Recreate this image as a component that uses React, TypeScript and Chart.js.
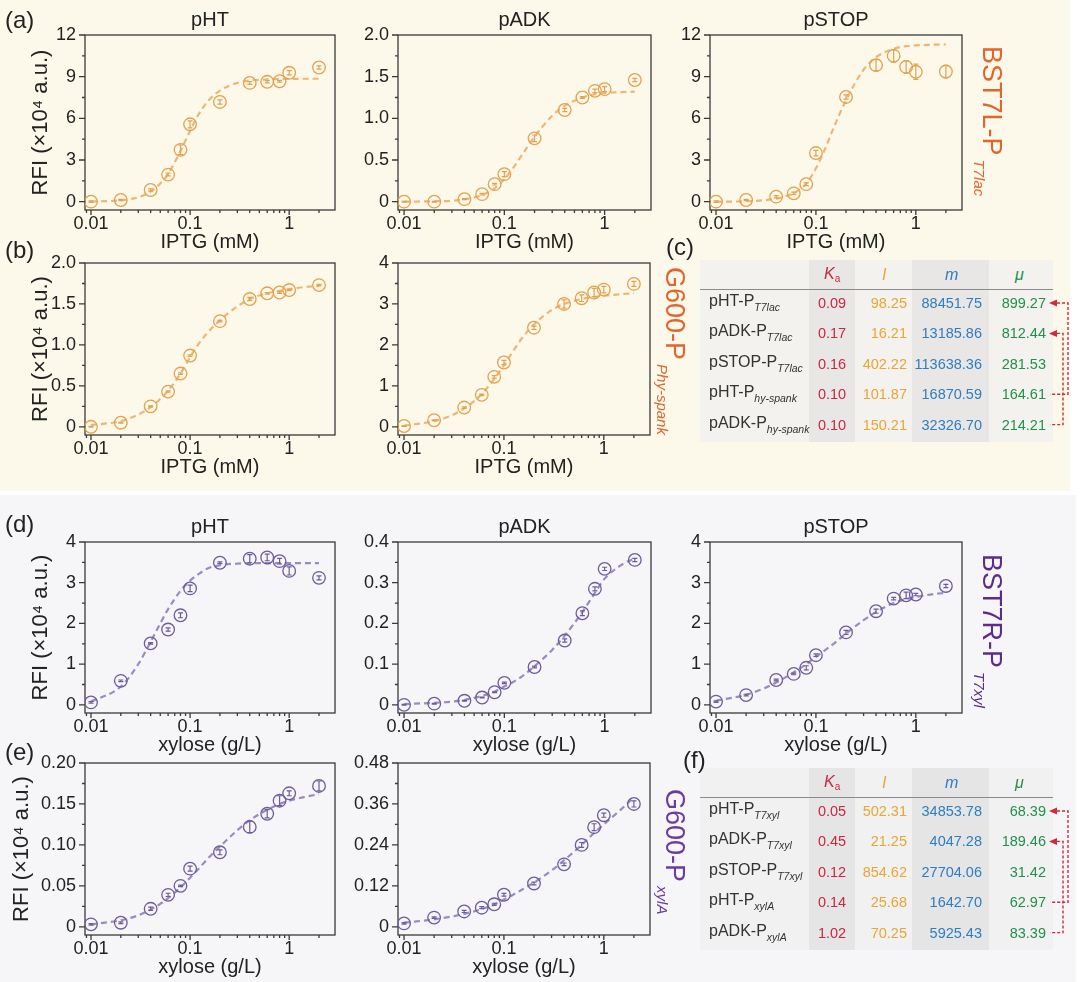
import React, { useEffect, useRef } from 'react';
import { Chart, registerables } from 'chart.js';

Chart.register(...registerables);

const FONT = '"Liberation Sans", Arial, Helvetica, sans-serif';
const TXT = '#222222';

// ---------- shared axis data ----------
const CONC = [0.01, 0.02, 0.04, 0.06, 0.08, 0.1, 0.2, 0.4, 0.6, 0.8, 1, 2];
const CURVE_X = [0.01, 0.02, 0.03, 0.04, 0.05, 0.06, 0.08, 0.1, 0.12, 0.15, 0.2, 0.3, 0.4, 0.6, 0.8, 1, 1.5, 2];
const X_MAJOR = [0.01, 0.1, 1];
const X_LABELS = ['0.01', '0.1', '1'];
const X_MINOR = [0.009, 0.02, 0.03, 0.04, 0.05, 0.06, 0.07, 0.08, 0.09, 0.2, 0.3, 0.4, 0.5, 0.6, 0.7, 0.8, 0.9, 2];

const Y_TICKS_12 = [0, 3, 6, 9, 12];
const Y_LABELS_12 = ['0', '3', '6', '9', '12'];
const Y_TICKS_2 = [0, 0.5, 1, 1.5, 2];
const Y_LABELS_2 = ['0', '0.5', '1.0', '1.5', '2.0'];
const Y_TICKS_4 = [0, 1, 2, 3, 4];
const Y_LABELS_4 = ['0', '1', '2', '3', '4'];
const Y_TICKS_04 = [0, 0.1, 0.2, 0.3, 0.4];
const Y_LABELS_04 = ['0', '0.1', '0.2', '0.3', '0.4'];
const Y_TICKS_02 = [0, 0.05, 0.1, 0.15, 0.2];
const Y_LABELS_02 = ['0', '0.05', '0.10', '0.15', '0.20'];
const Y_TICKS_048 = [0, 0.12, 0.24, 0.36, 0.48];
const Y_LABELS_048 = ['0', '0.12', '0.24', '0.36', '0.48'];

// ---------- series (a) BST7L-P_T7lac ----------
const A_PHT = [0, 0.12, 0.84, 1.95, 3.73, 5.57, 7.18, 8.55, 8.63, 8.67, 9.28, 9.66];
const A_PHT_ERR = [0.05, 0.05, 0.08, 0.1, 0.35, 0.25, 0.15, 0.1, 0.08, 0.06, 0.15, 0.12];
const A_PHT_FIT = [0.01, 0.1, 0.32, 0.72, 1.3, 2.0, 3.65, 5.1, 6.2, 7.2, 8.0, 8.55, 8.72, 8.8, 8.83, 8.84, 8.85, 8.85];

const A_PADK = [0, 0, 0.03, 0.09, 0.21, 0.33, 0.76, 1.1, 1.25, 1.33, 1.35, 1.46];
const A_PADK_ERR = [0.005, 0.005, 0.006, 0.01, 0.01, 0.03, 0.04, 0.02, 0.01, 0.02, 0.03, 0.02];
const A_PADK_FIT = [0, 0.005, 0.012, 0.03, 0.05, 0.08, 0.16, 0.27, 0.39, 0.56, 0.78, 1.03, 1.15, 1.25, 1.29, 1.305, 1.315, 1.32];

const A_PSTOP = [0, 0.12, 0.36, 0.6, 1.26, 3.5, 7.54, 9.83, 10.5, 9.7, 9.35, 9.37];
const A_PSTOP_ERR = [0.05, 0.05, 0.08, 0.08, 0.1, 0.2, 0.15, 0.4, 0.45, 0.45, 0.55, 0.45];
const A_PSTOP_FIT = [0, 0.03, 0.1, 0.22, 0.4, 0.62, 1.3, 2.4, 3.6, 5.3, 7.3, 9.5, 10.4, 11.0, 11.2, 11.25, 11.3, 11.32];

// ---------- series (b) G600-P_hy-spank ----------
const B_PHT = [0, 0.05, 0.25, 0.43, 0.65, 0.87, 1.29, 1.56, 1.63, 1.64, 1.67, 1.73];
const B_PHT_ERR = [0.005, 0.005, 0.006, 0.008, 0.01, 0.01, 0.01, 0.02, 0.01, 0.01, 0.008, 0.01];
const B_PHT_FIT = [0.02, 0.07, 0.15, 0.24, 0.34, 0.44, 0.65, 0.85, 1.0, 1.15, 1.3, 1.47, 1.56, 1.63, 1.66, 1.68, 1.71, 1.72];

const B_PADK = [0.02, 0.16, 0.47, 0.78, 1.22, 1.57, 2.42, 3.0, 3.14, 3.28, 3.35, 3.49];
const B_PADK_ERR = [0.01, 0.01, 0.02, 0.02, 0.03, 0.05, 0.04, 0.1, 0.08, 0.1, 0.08, 0.06];
const B_PADK_FIT = [0.03, 0.14, 0.28, 0.45, 0.62, 0.8, 1.17, 1.5, 1.8, 2.15, 2.5, 2.85, 3.0, 3.12, 3.17, 3.2, 3.24, 3.26];

// ---------- series (d) BST7R-P_T7xyl ----------
const D_PHT = [0.06, 0.59, 1.51, 1.85, 2.2, 2.86, 3.49, 3.59, 3.62, 3.53, 3.29, 3.12];
const D_PHT_ERR = [0.02, 0.02, 0.02, 0.04, 0.06, 0.08, 0.02, 0.1, 0.08, 0.07, 0.1, 0.05];
const D_PHT_FIT = [0.08, 0.45, 1.0, 1.55, 2.0, 2.35, 2.8, 3.05, 3.2, 3.35, 3.43, 3.47, 3.48, 3.48, 3.48, 3.48, 3.48, 3.48];

const D_PADK = [0, 0.003, 0.01, 0.018, 0.031, 0.054, 0.093, 0.158, 0.225, 0.285, 0.334, 0.356];
const D_PADK_ERR = [0.001, 0.001, 0.001, 0.001, 0.001, 0.002, 0.002, 0.004, 0.006, 0.005, 0.004, 0.004];
const D_PADK_FIT = [0.002, 0.005, 0.008, 0.012, 0.017, 0.022, 0.033, 0.045, 0.055, 0.07, 0.095, 0.135, 0.17, 0.228, 0.275, 0.31, 0.345, 0.36];

const D_PSTOP = [0.08, 0.24, 0.61, 0.76, 0.91, 1.22, 1.78, 2.3, 2.61, 2.69, 2.71, 2.92];
const D_PSTOP_ERR = [0.02, 0.02, 0.02, 0.02, 0.05, 0.03, 0.05, 0.05, 0.03, 0.08, 0.03, 0.04];
const D_PSTOP_FIT = [0.1, 0.25, 0.4, 0.55, 0.68, 0.8, 1.0, 1.18, 1.32, 1.5, 1.75, 2.08, 2.28, 2.5, 2.6, 2.65, 2.72, 2.75];

// ---------- series (e) G600-P_xylA ----------
const E_PHT = [0.003, 0.005, 0.022, 0.039, 0.05, 0.071, 0.091, 0.122, 0.138, 0.154, 0.163, 0.172];
const E_PHT_ERR = [0.001, 0.001, 0.002, 0.002, 0.001, 0.003, 0.003, 0.007, 0.005, 0.006, 0.003, 0.006];
const E_PHT_FIT = [0.003, 0.008, 0.014, 0.021, 0.028, 0.035, 0.048, 0.06, 0.07, 0.083, 0.098, 0.118, 0.13, 0.143, 0.15, 0.154, 0.159, 0.162];

const E_PADK = [0.01, 0.027, 0.045, 0.056, 0.066, 0.094, 0.127, 0.183, 0.24, 0.292, 0.327, 0.36];
const E_PADK_ERR = [0.002, 0.002, 0.003, 0.003, 0.003, 0.004, 0.004, 0.004, 0.007, 0.01, 0.006, 0.009];
const E_PADK_FIT = [0.012, 0.022, 0.03, 0.038, 0.045, 0.052, 0.065, 0.08, 0.092, 0.108, 0.13, 0.165, 0.195, 0.24, 0.275, 0.3, 0.345, 0.38];

// ---------- tables ----------
const C_NAMES = ['pHT-P', 'pADK-P', 'pSTOP-P', 'pHT-P', 'pADK-P'];
const C_SUBS = ['T7lac', 'T7lac', 'T7lac', 'hy-spank', 'hy-spank'];
const C_KA = ['0.09', '0.17', '0.16', '0.10', '0.10'];
const C_I = ['98.25', '16.21', '402.22', '101.87', '150.21'];
const C_M = ['88451.75', '13185.86', '113638.36', '16870.59', '32326.70'];
const C_MU = ['899.27', '812.44', '281.53', '164.61', '214.21'];

const F_NAMES = ['pHT-P', 'pADK-P', 'pSTOP-P', 'pHT-P', 'pADK-P'];
const F_SUBS = ['T7xyl', 'T7xyl', 'T7xyl', 'xylA', 'xylA'];
const F_KA = ['0.05', '0.45', '0.12', '0.14', '1.02'];
const F_I = ['502.31', '21.25', '854.62', '25.68', '70.25'];
const F_M = ['34853.78', '4047.28', '27704.06', '1642.70', '5925.43'];
const F_MU = ['68.39', '189.46', '31.42', '62.97', '83.39'];

const ORANGE_MARK = '#E2A24E';
const ORANGE_LINE = '#EDB675';
const PURPLE_MARK = '#6C5C9C';
const PURPLE_LINE = '#9A8BC2';

const C_RED = '#C9283E';
const C_ORG = '#E9A634';
const C_BLUE = '#2F7DBF';
const C_GREEN = '#22904A';

type PanelProps = {
  L: number; T: number; R: number; B: number;
  title: string; xTitle: string; yTitle?: string; yTitlePad?: number;
  ticks: number[]; labels: string[];
  pts: number[]; err: number[]; fit: number[];
  mark: string; line: string;
};

function Panel(p: PanelProps) {
  const ref = useRef<HTMLCanvasElement>(null);
  const cl = p.L - 85;
  const ct = p.T - 35;
  const cw = p.R + 10 - cl;
  const ch = p.B + 50 - ct;

  useEffect(() => {
    const yMax = p.ticks[p.ticks.length - 1];
    const yMin = -0.05 * yMax;
    const minor = p.ticks.slice(1).map((v, i) => (v + p.ticks[i]) / 2);

    const decor = {
      id: 'decor',
      beforeDatasetsDraw(chart: any) {
        const { ctx, chartArea } = chart;
        const { left, right, top, bottom } = chartArea;
        const xs = chart.scales.x;
        const ys = chart.scales.y;
        ctx.save();
        ctx.strokeStyle = '#3a3a3a';
        ctx.lineWidth = 1.3;
        ctx.strokeRect(left, top, right - left, bottom - top);
        ctx.beginPath();
        X_MAJOR.forEach((v) => {
          const px = xs.getPixelForValue(v);
          ctx.moveTo(px, bottom); ctx.lineTo(px, bottom + 5);
        });
        X_MINOR.forEach((v) => {
          const px = xs.getPixelForValue(v);
          if (px >= left - 0.5 && px <= right + 0.5) {
            ctx.moveTo(px, bottom); ctx.lineTo(px, bottom + 3);
          }
        });
        p.ticks.forEach((v) => {
          const py = ys.getPixelForValue(v);
          ctx.moveTo(left, py); ctx.lineTo(left - 6, py);
        });
        minor.forEach((v) => {
          const py = ys.getPixelForValue(v);
          ctx.moveTo(left, py); ctx.lineTo(left - 3, py);
        });
        ctx.stroke();
        ctx.restore();
      },
      afterDatasetsDraw(chart: any) {
        const { ctx } = chart;
        const ys = chart.scales.y;
        const meta = chart.getDatasetMeta(1);
        ctx.save();
        ctx.strokeStyle = p.mark;
        ctx.lineWidth = 1.2;
        ctx.beginPath();
        meta.data.forEach((el: any, i: number) => {
          const px = el.x;
          const y1 = ys.getPixelForValue(p.pts[i] + p.err[i]);
          const y2 = ys.getPixelForValue(p.pts[i] - p.err[i]);
          ctx.moveTo(px, y1); ctx.lineTo(px, y2);
          ctx.moveTo(px - 2.5, y1); ctx.lineTo(px + 2.5, y1);
          ctx.moveTo(px - 2.5, y2); ctx.lineTo(px + 2.5, y2);
        });
        ctx.stroke();
        ctx.restore();
      },
      afterDraw(chart: any) {
        const { ctx, chartArea } = chart;
        ctx.save();
        ctx.font = `20px ${FONT}`;
        ctx.fillStyle = TXT;
        ctx.textAlign = 'center';
        ctx.textBaseline = 'middle';
        ctx.fillText(p.title, (chartArea.left + chartArea.right) / 2, chartArea.top - 15);
        ctx.restore();
      },
    };

    const chart = new Chart(ref.current as HTMLCanvasElement, {
      type: 'scatter',
      data: {
        datasets: [
          {
            data: CURVE_X.map((x, i) => ({ x, y: p.fit[i] })),
            showLine: true,
            borderColor: p.line,
            borderWidth: 2.2,
            borderDash: [6, 4],
            pointRadius: 0,
            cubicInterpolationMode: 'monotone',
            fill: false,
            order: 2,
          } as any,
          {
            data: CONC.map((x, i) => ({ x, y: p.pts[i] })),
            showLine: false,
            pointRadius: 6.3,
            pointBorderWidth: 1.3,
            pointBorderColor: p.mark,
            pointBackgroundColor: 'rgba(0,0,0,0)',
            order: 1,
          } as any,
        ],
      },
      options: {
        responsive: false,
        animation: false,
        layout: { padding: { top: 35, right: 10, left: 0, bottom: 0 } },
        plugins: {
          legend: { display: false },
          tooltip: { enabled: false },
          title: { display: false },
        },
        scales: {
          x: {
            type: 'logarithmic',
            min: 0.0087,
            max: 2.9,
            grid: { display: false, drawTicks: false },
            border: { display: false },
            ticks: {
              autoSkip: false,
              maxRotation: 0,
              padding: 3,
              color: TXT,
              font: { size: 18, family: FONT },
              callback: (_v: any, i: number) => X_LABELS[i],
            },
            afterBuildTicks: (s: any) => { s.ticks = X_MAJOR.map((v) => ({ value: v })); },
            afterFit: (s: any) => { s.height = 50; },
            title: {
              display: true,
              text: p.xTitle,
              color: TXT,
              font: { size: 20, family: FONT },
              padding: { top: 0, bottom: 6 },
            },
          } as any,
          y: {
            type: 'linear',
            min: yMin,
            max: yMax,
            grid: { display: false, drawTicks: false },
            border: { display: false },
            ticks: {
              autoSkip: false,
              padding: 9,
              color: TXT,
              font: { size: 18, family: FONT },
              callback: (_v: any, i: number) => p.labels[i],
            },
            afterBuildTicks: (s: any) => { s.ticks = p.ticks.map((v) => ({ value: v })); },
            afterFit: (s: any) => { s.width = 85; },
            title: {
              display: !!p.yTitle,
              text: p.yTitle || '',
              color: TXT,
              font: { size: 22, family: FONT },
              padding: { top: p.yTitlePad ?? 28, bottom: 0 },
            },
          } as any,
        },
      },
      plugins: [decor],
    });
    return () => chart.destroy();
  }, []);

  return (
    <canvas
      ref={ref}
      width={cw}
      height={ch}
      style={{ position: 'absolute', left: cl, top: ct, width: cw, height: ch }}
    />
  );
}

function Abs(props: { x: number; y: number; children: any; style?: any }) {
  return (
    <div
      style={{
        position: 'absolute', left: props.x, top: props.y,
        transform: 'translateY(-50%)', whiteSpace: 'nowrap', lineHeight: 1, ...props.style,
      }}
    >
      {props.children}
    </div>
  );
}

function RightText(props: { right: number; y: number; color: string; text: string }) {
  return (
    <div
      style={{
        position: 'absolute', left: props.right - 120, width: 120, top: props.y,
        transform: 'translateY(-50%)', textAlign: 'right', whiteSpace: 'nowrap',
        lineHeight: 1, fontSize: 14.5, color: props.color, fontFamily: FONT,
      }}
    >
      {props.text}
    </div>
  );
}

type TableProps = {
  y0: number; bg: string; shade: string;
  names: string[]; subs: string[]; ka: string[]; il: string[]; m: string[]; mu: string[];
};

function ParamTable(t: TableProps) {
  const headY = t.y0 + 15;
  const lineY = t.y0 + 29;
  const rowY = (i: number) => t.y0 + 43 + i * 30.4;
  const H = 182;
  const red = '#D02A3A';
  const r1 = rowY(0), r2 = rowY(1), r4 = rowY(3), r5 = rowY(4);
  return (
    <>
      <div style={{ position: 'absolute', left: 700, top: t.y0, width: 353, height: H, background: t.bg }} />
      <div style={{ position: 'absolute', left: 809, top: t.y0, width: 46, height: H, background: t.shade }} />
      <div style={{ position: 'absolute', left: 912, top: t.y0, width: 77, height: H, background: t.shade }} />
      <div style={{ position: 'absolute', left: 700, top: lineY, width: 353, height: 0, borderTop: '1.5px solid #8a8a8a' }} />
      <Abs x={824} y={headY} style={{ fontSize: 16, color: C_RED, fontStyle: 'italic', fontFamily: FONT }}>
        K<span style={{ fontSize: 10, fontStyle: 'normal', verticalAlign: -3 }}>a</span>
      </Abs>
      <Abs x={882} y={headY} style={{ fontSize: 16, color: C_ORG, fontStyle: 'italic', fontFamily: FONT }}>I</Abs>
      <Abs x={945} y={headY} style={{ fontSize: 16, color: C_BLUE, fontStyle: 'italic', fontFamily: FONT }}>m</Abs>
      <Abs x={1015} y={headY} style={{ fontSize: 16, color: C_GREEN, fontStyle: 'italic', fontFamily: FONT }}>μ</Abs>
      {t.names.map((n, i) => (
        <Abs key={'n' + i} x={709} y={rowY(i)} style={{ fontSize: 16, color: '#333', fontFamily: FONT }}>
          {n}
          <span style={{ fontSize: 10.5, fontStyle: 'italic', verticalAlign: -5 }}>{t.subs[i]}</span>
        </Abs>
      ))}
      {t.ka.map((v, i) => (
        <div
          key={'k' + i}
          style={{
            position: 'absolute', left: 792, width: 80, top: rowY(i), transform: 'translateY(-50%)',
            textAlign: 'center', lineHeight: 1, fontSize: 14.5, color: C_RED, fontFamily: FONT,
          }}
        >
          {v}
        </div>
      ))}
      {t.il.map((v, i) => <RightText key={'i' + i} right={907} y={rowY(i)} color={C_ORG} text={v} />)}
      {t.m.map((v, i) => <RightText key={'m' + i} right={982} y={rowY(i)} color={C_BLUE} text={v} />)}
      {t.mu.map((v, i) => <RightText key={'u' + i} right={1046} y={rowY(i)} color={C_GREEN} text={v} />)}
      <svg
        width={1080} height={982}
        style={{ position: 'absolute', left: 0, top: 0, pointerEvents: 'none' }}
      >
        <g stroke={red} strokeWidth={1.4} strokeDasharray="3 2" fill="none">
          <polyline points={`1057,${r1} 1068,${r1} 1068,${r4} 1050,${r4}`} />
          <polyline points={`1057,${r2} 1063,${r2} 1063,${r5} 1050,${r5}`} />
        </g>
        <polygon points={`1049,${r1} 1057,${r1 - 3.5} 1057,${r1 + 3.5}`} fill={red} />
        <polygon points={`1049,${r2} 1057,${r2 - 3.5} 1057,${r2 + 3.5}`} fill={red} />
      </svg>
    </>
  );
}

function SideLabel(props: { x: number; y: number; main: string; sub: string; color: string }) {
  return (
    <div
      style={{
        position: 'absolute', left: props.x, top: props.y, transform: 'rotate(90deg)',
        transformOrigin: '0 0', whiteSpace: 'nowrap', fontSize: 27, lineHeight: '30px',
        color: props.color, fontFamily: FONT,
      }}
    >
      {props.main}
      <span style={{ fontSize: 15, fontStyle: 'italic', verticalAlign: -9, marginLeft: 4 }}>{props.sub}</span>
    </div>
  );
}

function PanelLetter(props: { x: number; y: number; text: string }) {
  return (
    <Abs x={props.x} y={props.y} style={{ fontSize: 24, color: TXT, fontFamily: FONT }}>
      {props.text}
    </Abs>
  );
}

export default function App() {
  const RFI = 'RFI (×10⁴ a.u.)';
  return (
    <div
      style={{
        position: 'absolute', left: 0, top: 0, width: 1080, height: 982,
        background: '#ffffff', overflow: 'hidden', fontFamily: FONT,
      }}
    >
      <div style={{ position: 'absolute', left: 0, top: 0, width: 1070, height: 491, background: '#FCF8EA' }} />
      <div style={{ position: 'absolute', left: 0, top: 495, width: 1076, height: 487, background: '#F6F5F8' }} />

      {/* row a */}
      <Panel L={85} T={35} R={335} B={210} title="pHT" xTitle="IPTG (mM)" yTitle={RFI}
        ticks={Y_TICKS_12} labels={Y_LABELS_12} pts={A_PHT} err={A_PHT_ERR} fit={A_PHT_FIT}
        mark={ORANGE_MARK} line={ORANGE_LINE} />
      <Panel L={398} T={35} R={651} B={210} title="pADK" xTitle="IPTG (mM)"
        ticks={Y_TICKS_2} labels={Y_LABELS_2} pts={A_PADK} err={A_PADK_ERR} fit={A_PADK_FIT}
        mark={ORANGE_MARK} line={ORANGE_LINE} />
      <Panel L={710} T={35} R={962} B={210} title="pSTOP" xTitle="IPTG (mM)"
        ticks={Y_TICKS_12} labels={Y_LABELS_12} pts={A_PSTOP} err={A_PSTOP_ERR} fit={A_PSTOP_FIT}
        mark={ORANGE_MARK} line={ORANGE_LINE} />

      {/* row b */}
      <Panel L={85} T={263} R={335} B={435} title="" xTitle="IPTG (mM)" yTitle={RFI}
        ticks={Y_TICKS_2} labels={Y_LABELS_2} pts={B_PHT} err={B_PHT_ERR} fit={B_PHT_FIT}
        mark={ORANGE_MARK} line={ORANGE_LINE} />
      <Panel L={398} T={263} R={650} B={435} title="" xTitle="IPTG (mM)"
        ticks={Y_TICKS_4} labels={Y_LABELS_4} pts={B_PADK} err={B_PADK_ERR} fit={B_PADK_FIT}
        mark={ORANGE_MARK} line={ORANGE_LINE} />

      {/* row d */}
      <Panel L={85} T={542} R={335} B={713} title="pHT" xTitle="xylose (g/L)" yTitle={RFI}
        ticks={Y_TICKS_4} labels={Y_LABELS_4} pts={D_PHT} err={D_PHT_ERR} fit={D_PHT_FIT}
        mark={PURPLE_MARK} line={PURPLE_LINE} />
      <Panel L={398} T={542} R={651} B={713} title="pADK" xTitle="xylose (g/L)"
        ticks={Y_TICKS_04} labels={Y_LABELS_04} pts={D_PADK} err={D_PADK_ERR} fit={D_PADK_FIT}
        mark={PURPLE_MARK} line={PURPLE_LINE} />
      <Panel L={710} T={542} R={962} B={713} title="pSTOP" xTitle="xylose (g/L)"
        ticks={Y_TICKS_4} labels={Y_LABELS_4} pts={D_PSTOP} err={D_PSTOP_ERR} fit={D_PSTOP_FIT}
        mark={PURPLE_MARK} line={PURPLE_LINE} />

      {/* row e */}
      <Panel L={85} T={763} R={335} B={935} title="" xTitle="xylose (g/L)" yTitle={RFI} yTitlePad={9}
        ticks={Y_TICKS_02} labels={Y_LABELS_02} pts={E_PHT} err={E_PHT_ERR} fit={E_PHT_FIT}
        mark={PURPLE_MARK} line={PURPLE_LINE} />
      <Panel L={398} T={763} R={650} B={935} title="" xTitle="xylose (g/L)"
        ticks={Y_TICKS_048} labels={Y_LABELS_048} pts={E_PADK} err={E_PADK_ERR} fit={E_PADK_FIT}
        mark={PURPLE_MARK} line={PURPLE_LINE} />

      <ParamTable y0={260} bg="#F3F2EF" shade="#E8E7E5" names={C_NAMES} subs={C_SUBS}
        ka={C_KA} il={C_I} m={C_M} mu={C_MU} />
      <ParamTable y0={768} bg="#F1F1F2" shade="#E5E5E6" names={F_NAMES} subs={F_SUBS}
        ka={F_KA} il={F_I} m={F_M} mu={F_MU} />

      <SideLabel x={1007} y={46} main="BST7L-P" sub="T7lac" color="#E0662E" />
      <SideLabel x={690} y={267} main="G600-P" sub="Phy-spank" color="#E0662E" />
      <SideLabel x={1007} y={554} main="BST7R-P" sub="T7xyl" color="#5B2C8C" />
      <SideLabel x={690} y={789} main="G600-P" sub="xylA" color="#6A3C9E" />

      <PanelLetter x={5} y={20} text="(a)" />
      <PanelLetter x={5} y={250} text="(b)" />
      <PanelLetter x={666} y={247} text="(c)" />
      <PanelLetter x={5} y={524} text="(d)" />
      <PanelLetter x={5} y={752} text="(e)" />
      <PanelLetter x={683} y={760} text="(f)" />
    </div>
  );
}
